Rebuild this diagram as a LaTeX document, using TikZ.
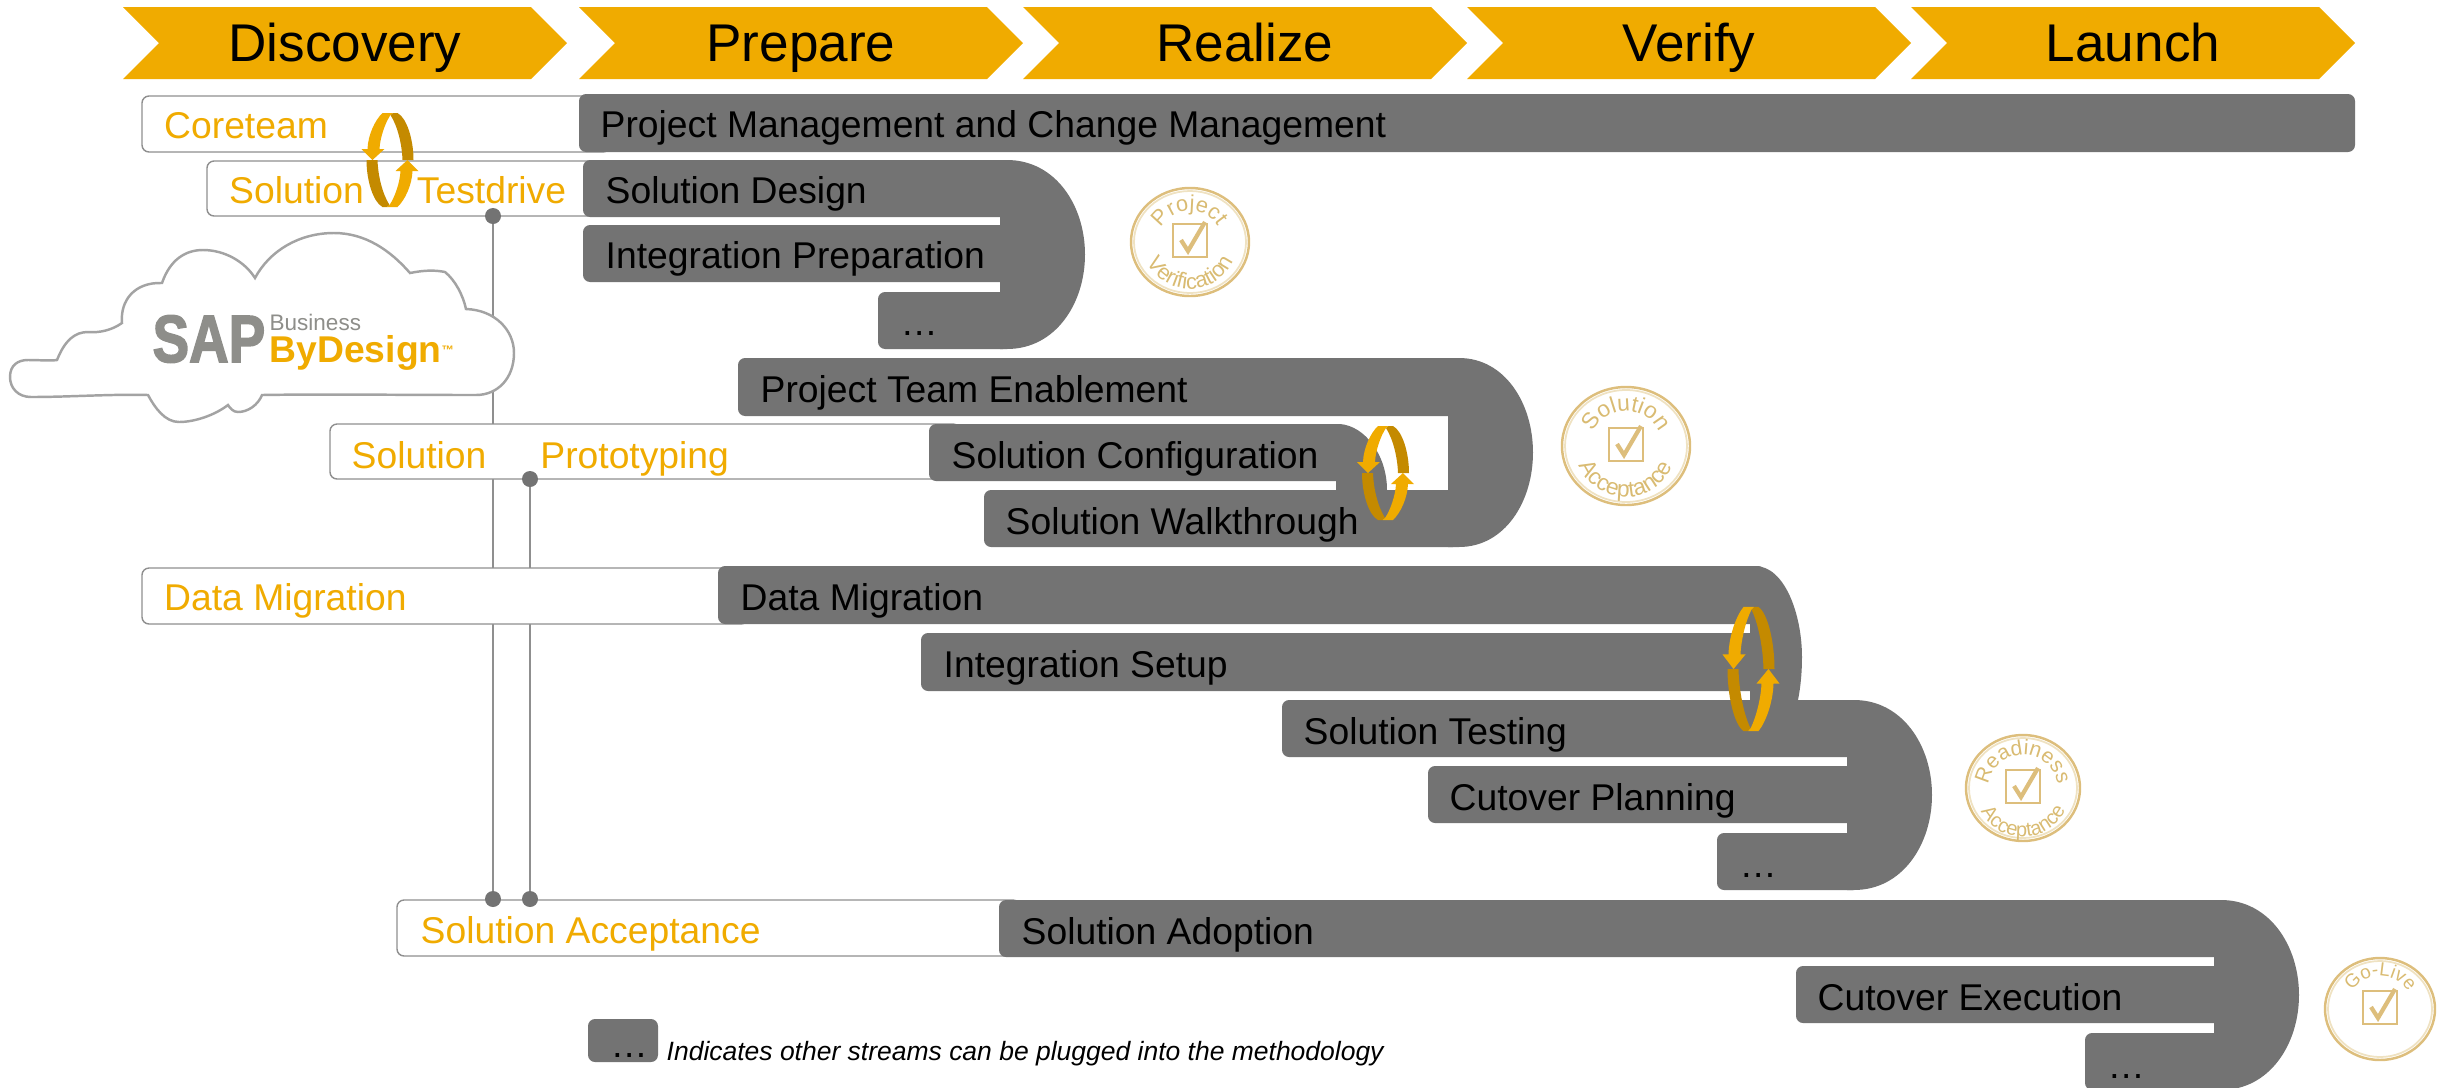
\documentclass[tikz,border=0pt]{standalone}
\usepackage{xcolor}
\usepackage{fontspec}
\setmainfont{Liberation Sans}
\newfontfamily\logofont[FakeBold=2.5]{Liberation Sans Bold}
\usetikzlibrary{decorations.text}
\definecolor{phaseorange}{HTML}{F0AB00}
\definecolor{cycledarkorange}{HTML}{C48A00}
\definecolor{streamgray}{HTML}{737373}
\definecolor{outlinegray}{HTML}{8F8F8F}
\definecolor{cloudgray}{HTML}{A3A3A3}
\definecolor{logogray}{HTML}{8E8E8A}
\definecolor{stamptan}{HTML}{DDBE7C}
\definecolor{stamppale}{HTML}{EFE2C2}
\definecolor{stamptext}{HTML}{D9BB72}

\begin{document}
\begin{tikzpicture}[x=0.01cm, y=-0.01cm]
            \tikzset{phase/.style={fill=phaseorange}}
            \tikzset{phaselabel/.style={anchor=base, font=\fontsize{15.1}{16}\selectfont}}
            \tikzset{streamlabel/.style={anchor=base west, inner sep=0pt, font=\fontsize{10.6}{12}\selectfont}}
            \tikzset{teamlabel/.style={streamlabel, text=phaseorange}}
            \tikzset{teambox/.style={draw=outlinegray, line width=0.4pt, fill=white, rounded corners=2pt}}
            \tikzset{streambar/.style={fill=streamgray, rounded corners=2pt}}
            \tikzset{link/.style={draw=outlinegray, line width=0.4pt}}
            \tikzset{stampword/.style 2 args={decorate, decoration={text along path, text={|\fontsize{#1}{7}\selectfont\color{stamptext}|#2}}}}
            \clip (0, 0) rectangle (2453, 1087);
            % phases
            \foreach \x/\name in {123/Discovery, 579/Prepare, 1023/Realize, 1467/Verify, 1911/Launch} {
                \fill[phase] (\x, 7) -- ++(408, 0) -- ++(36, 36) -- ++(-36, 36) -- ++(-408, 0) -- ++(36, -36) -- cycle;
                \node[phaselabel] (\name) at ({\x+222}, 61) {\name};
            }
            % links behind the boxes
            \coordinate (testdrivefoot) at (493, 216);
            \coordinate (prototypefoot) at (530, 479);
            \coordinate (acceptleft) at (493, 899);
            \coordinate (acceptright) at (530, 899);
            \draw[link] (testdrivefoot) -- (acceptleft);
            \draw[link] (prototypefoot) -- (acceptright);
            % cloud
            \draw[draw=cloudgray, line width=0.7pt, fill=white] (10, 377) .. controls (10, 365) and (18, 360) .. (28, 360)
                .. controls (40, 360) and (50, 361) .. (57, 360)
                .. controls (65, 340) and (75, 332) .. (88, 332)
                .. controls (100, 333) and (112, 330) .. (122, 323)
                .. controls (120, 300) and (135, 282) .. (162, 283)
                .. controls (170, 260) and (185, 250) .. (203, 250)
                .. controls (225, 250) and (245, 262) .. (255, 278)
                .. controls (270, 250) and (300, 233) .. (334, 233)
                .. controls (365, 233) and (390, 250) .. (410, 273)
                .. controls (425, 270) and (435, 270) .. (445, 272)
                .. controls (455, 280) and (463, 295) .. (466, 309)
                .. controls (495, 310) and (514, 330) .. (514, 353)
                .. controls (514, 378) and (498, 395) .. (476, 395)
                .. controls (400, 395) and (320, 394) .. (262, 395)
                .. controls (258, 405) and (248, 412) .. (238, 412)
                .. controls (233, 412) and (230, 408) .. (228, 405)
                .. controls (215, 415) and (195, 422) .. (179, 422)
                .. controls (165, 422) and (155, 408) .. (148, 395)
                .. controls (110, 394) and (70, 397) .. (31, 397)
                .. controls (18, 397) and (10, 388) .. (10, 377) -- cycle;
            \node[anchor=base west, inner sep=0pt, xscale=0.82, text=logogray, font=\fontsize{19}{20}\logofont] (sap) at (152, 362) {SAP};
            \node[anchor=base west, inner sep=0pt, text=logogray, font=\fontsize{6.4}{7}\selectfont] (business) at (269, 330) {Business};
            \node[anchor=base west, inner sep=0pt, text=phaseorange, font=\fontsize{10.6}{11}\selectfont\bfseries] (bydesign) at (269, 362) {ByDesign{\fontsize{3.5}{4}\selectfont\raisebox{1.1ex}{™}}};
            % team boxes
            \foreach \xa/\ya/\xb/\yb in {142/96/610/152, 207/161/610/216, 330/424/960/479, 142/568/748/624, 397/900/1020/956} {
                \draw[teambox] (\xa, \ya) rectangle (\xb, \yb);
            }
            \node[teamlabel] (coreteam) at (163.5, 138) {Coreteam};
            \node[teamlabel] (testdrive) at (228.5, 203) {Solution\hspace{0.53cm}Testdrive};
            \node[teamlabel] (prototyping) at (351, 468) {Solution\hspace{0.54cm}Prototyping};
            \node[teamlabel] (migrationteam) at (163.5, 610) {Data Migration};
            \node[teamlabel] (acceptance) at (420, 943) {Solution Acceptance};
            \fill[streamgray] (testdrivefoot) circle[radius=8];
            \fill[streamgray] (prototypefoot) circle[radius=8];
            \fill[streamgray] (acceptleft) circle[radius=8];
            \fill[streamgray] (acceptright) circle[radius=8];
            % streams
            \fill[streambar] (579, 94) rectangle (2355, 152);
            \foreach \xa/\ya/\xb/\yb in {583/160/1010/217, 583/225/1010/282, 878/292/1010/349,
                    738/358/1460/416, 929/424/1345/481, 984/490/1460/547,
                    718/566/1765/624, 921/633/1765/691, 1282/700/1860/757, 1428/766/1860/823, 1717/833/1860/890,
                    999/900/2225/957, 1796/966/2225/1023, 2085/1033/2225/1090, 588/1019/658/1062} {
                \fill[streambar] (\xa, \ya) rectangle (\xb, \yb);
            }
            \foreach \xa/\xb/\xc/\ya/\yb in {1000/1007/1085/160/349, 1448/1459/1533/358/547, 1847/1854/1932/700/890, 2214/2221/2299/900/1090} {
                \pgfmathsetmacro{\ymid}{(\ya+\yb)/2}
                \fill[streamgray] (\xa, \ya) -- (\xb, \ya) .. controls ({\xb+0.62*(\xc-\xb)}, \ya) and (\xc, {\ya+0.24*(\yb-\ya)}) .. (\xc, \ymid)
                    .. controls (\xc, {\yb-0.24*(\yb-\ya)}) and ({\xb+0.62*(\xc-\xb)}, \yb) .. (\xb, \yb) -- (\xa, \yb) -- cycle;
            }
            \fill[streamgray] (1750, 566) -- (1755, 566) .. controls (1785, 566) and (1802, 615) .. (1802, 657) .. controls (1802, 670) and (1801, 685) .. (1798, 700) -- (1750, 700) -- cycle;
            \fill[streamgray] (1336, 424) -- (1340, 424) .. controls (1365, 426) and (1387, 455) .. (1387, 490) -- (1387, 500) -- (1336, 500) -- cycle;
            \node[streamlabel] (management) at (600, 137) {Project Management and Change Management};
            \node[streamlabel] (design) at (605, 203) {Solution Design};
            \node[streamlabel] (preparation) at (605, 268) {Integration Preparation};
            \node[streamlabel] (moreone) at (900, 335) {…};
            \node[streamlabel] (enablement) at (760, 402) {Project Team Enablement};
            \node[streamlabel] (configuration) at (951, 468) {Solution Configuration};
            \node[streamlabel] (walkthrough) at (1005, 534) {Solution Walkthrough};
            \node[streamlabel] (migration) at (740, 610) {Data Migration};
            \node[streamlabel] (setup) at (943, 677) {Integration Setup};
            \node[streamlabel] (testing) at (1303, 744) {Solution Testing};
            \node[streamlabel] (planning) at (1449, 810) {Cutover Planning};
            \node[streamlabel] (moretwo) at (1739, 877) {…};
            \node[streamlabel] (adoption) at (1021, 944) {Solution Adoption};
            \node[streamlabel] (execution) at (1817, 1010) {Cutover Execution};
            \node[streamlabel] (morethree) at (2107, 1078) {…};
            \node[streamlabel] (morelegend) at (610, 1057) {…};
            \node[anchor=base west, inner sep=0pt, font=\fontsize{7.53}{8}\selectfont\itshape] (legend) at (666, 1060) {Indicates other streams can be plugged into the methodology};
            % cycles
            \foreach \cx/\cy/\ys in {390/160/1, 1385.5/473/1, 1751/669/1.32} {
                \begin{scope}[shift={(\cx, \cy)}, yscale=\ys]
                    \foreach \a in {0, 180} {
                        \begin{scope}[rotate=\a]
                            \fill[cycledarkorange] (3, -47) -- (7.5, -47) .. controls (17, -42) and (23.5, -20) .. (23.5, 0) -- (12.5, 0) .. controls (12, -15) and (8, -33) .. (0.5, -45) -- cycle;
                            \fill[phaseorange] (-7.5, -47) .. controls (-15, -40) and (-22, -25) .. (-22.5, -11) -- (-28.5, -11) -- (-17.5, 0) -- (-5.5, -11) -- (-10.5, -11) .. controls (-10, -22) and (-5, -37) .. (0.5, -45) -- (3, -47) -- cycle;
                        \end{scope}
                    }
                \end{scope}
            }
            % stamps
            \foreach \cx/\cy/\rx/\ry in {1190/242/59/54, 1626/446/64/59, 2023/788/57/53, 2380/1009/55/51} {
                \draw[stamptan, line width=0.7pt] (\cx, \cy) ellipse[x radius=\rx, y radius=\ry];
                \draw[stamppale, line width=0.5pt] (\cx, \cy) ellipse[x radius=\rx-3, y radius=\ry-3];
                \begin{scope}[shift={(\cx, \cy)}]
                    \draw[stamptan, line width=0.8pt] (-17, -18) rectangle (17, 15);
                    \draw[stamptan, line width=1.2pt] (-9, -2) -- (-2, 9) -- (15, -20);
                \end{scope}
            }
            \begin{scope}[shift={(1190, 244)}]
                \path[stampword={6.2}{Project}] (150:0.33cm) arc[start angle=150, end angle=0, radius=0.33cm];
            \end{scope}
            \begin{scope}[shift={(1190, 242)}]
                \path[stampword={6.2}{Verification}] (205:0.47cm) arc[start angle=205, end angle=350, radius=0.47cm];
            \end{scope}
            \begin{scope}[shift={(1626, 447)}]
                \path[stampword={6.5}{Solution}] (156:0.36cm) arc[start angle=156, end angle=0, radius=0.36cm];
                \path[stampword={6.5}{Acceptance}] (201:0.50cm) arc[start angle=201, end angle=355, radius=0.50cm];
            \end{scope}
            \begin{scope}[shift={(2023, 790)}]
                \path[stampword={6}{Readiness}] (172:0.35cm) arc[start angle=172, end angle=-15, radius=0.35cm];
                \path[stampword={5.7}{Acceptance}] (207:0.47cm) arc[start angle=207, end angle=350, radius=0.47cm];
            \end{scope}
            \begin{scope}[shift={(2380, 1009)}]
                \path[stampword={5.4}{Go-Live}] (147:0.33cm) arc[start angle=147, end angle=-20, radius=0.33cm];
            \end{scope}
        \end{tikzpicture}
\end{document}
